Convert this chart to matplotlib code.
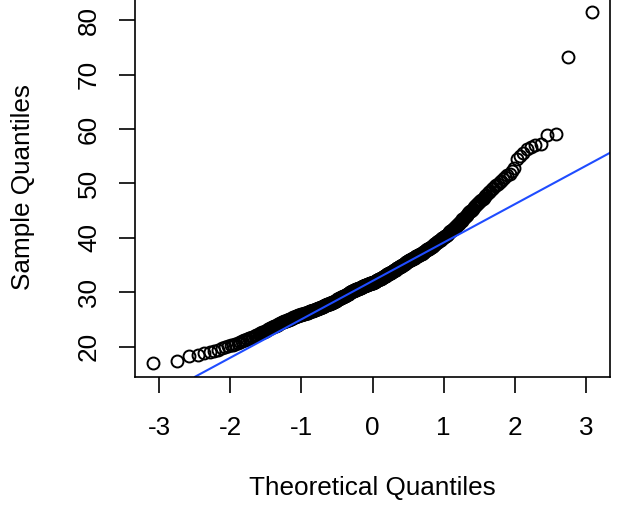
from statistics import NormalDist

import matplotlib

matplotlib.use("Agg")
import matplotlib.pyplot as plt
import numpy as np

# sorted sample values, lower half (ranks 1-250)
sample_low = [
    17.1, 17.4, 18.3, 18.6, 18.8, 19.1, 19.3, 19.5, 19.8, 20.0, 20.1, 20.3, 20.4,
    20.6, 20.7, 20.9, 21.0, 21.2, 21.3, 21.5, 21.6, 21.7, 21.8, 21.9, 22.0,
    22.1, 22.2, 22.4, 22.5, 22.6,
    22.7, 22.8, 22.9, 23.0, 23.1, 23.2, 23.3, 23.4, 23.5, 23.6,
    23.7, 23.8, 23.8, 23.9, 24.0, 24.1, 24.2, 24.2, 24.3, 24.4,
    24.5, 24.5, 24.6, 24.7, 24.7, 24.8, 24.8, 24.9, 25.0, 25.0,
    25.1, 25.1, 25.2, 25.2, 25.3, 25.3, 25.4, 25.4, 25.5, 25.5, 25.6, 25.6, 25.7, 25.7, 25.8,
    25.8, 25.9, 25.9, 25.9, 26.0, 26.0, 26.0, 26.1, 26.1, 26.1, 26.2, 26.2, 26.2,
    26.3, 26.3, 26.3, 26.4, 26.4, 26.4, 26.5, 26.5, 26.5, 26.5, 26.6, 26.6,
    26.6, 26.7, 26.7, 26.8, 26.8, 26.8, 26.9, 26.9, 27.0, 27.0, 27.0, 27.1, 27.1,
    27.2, 27.2, 27.2, 27.3, 27.3, 27.3, 27.4, 27.4, 27.4, 27.5, 27.5, 27.5,
    27.6, 27.6, 27.6, 27.7, 27.7, 27.7, 27.8, 27.8, 27.8, 27.9, 27.9, 27.9,
    28.0, 28.0, 28.0, 28.1, 28.1, 28.1, 28.2, 28.2, 28.2, 28.3, 28.3, 28.4, 28.4,
    28.4, 28.5, 28.5, 28.6, 28.6, 28.7, 28.7, 28.8, 28.8, 28.8, 28.9, 28.9, 29.0,
    29.0, 29.0, 29.1, 29.1, 29.2, 29.2, 29.2, 29.3, 29.3, 29.3, 29.4, 29.4,
    29.4, 29.5, 29.5, 29.6, 29.6, 29.7, 29.7, 29.8, 29.8, 29.8, 29.9, 29.9, 30.0,
    30.0, 30.0, 30.1, 30.1, 30.2, 30.2, 30.2, 30.3, 30.3, 30.3, 30.4, 30.4,
    30.4, 30.5, 30.5, 30.5, 30.6, 30.6, 30.6, 30.6, 30.7, 30.7, 30.7, 30.8, 30.8,
    30.8, 30.8, 30.9, 30.9, 30.9, 31.0, 31.0, 31.0, 31.0, 31.1, 31.1, 31.1,
    31.1, 31.2, 31.2, 31.2, 31.3, 31.3, 31.3, 31.3, 31.4, 31.4, 31.4, 31.5, 31.5,
    31.5, 31.5, 31.6, 31.6, 31.6, 31.7, 31.7, 31.7, 31.7, 31.8, 31.8, 31.8,
]

# sorted sample values, upper half (ranks 251-500)
sample_high = [
    31.8, 31.8, 31.9, 31.9, 31.9, 32.0, 32.0, 32.0, 32.1, 32.1, 32.1, 32.2, 32.2,
    32.2, 32.3, 32.3, 32.3, 32.4, 32.4, 32.4, 32.5, 32.5, 32.5, 32.6, 32.6,
    32.6, 32.7, 32.7, 32.8, 32.8, 32.9, 32.9, 33.0, 33.0, 33.0, 33.1, 33.1, 33.2,
    33.2, 33.2, 33.3, 33.3, 33.4, 33.4, 33.4, 33.5, 33.5, 33.5, 33.6, 33.6,
    33.6, 33.7, 33.7, 33.8, 33.8, 33.9, 33.9, 34.0, 34.0, 34.1, 34.1, 34.1, 34.2,
    34.2, 34.3, 34.3, 34.4, 34.4, 34.4, 34.5, 34.5, 34.6, 34.6, 34.7, 34.7,
    34.7, 34.8, 34.8, 34.9, 34.9, 35.0, 35.0, 35.1, 35.1, 35.2, 35.2, 35.3, 35.3,
    35.4, 35.4, 35.5, 35.5, 35.6, 35.6, 35.7, 35.7, 35.8, 35.8, 35.9, 35.9,
    35.9, 36.0, 36.0, 36.1, 36.1, 36.2, 36.2, 36.3, 36.3, 36.4, 36.4, 36.4, 36.5,
    36.5, 36.6, 36.6, 36.7, 36.7, 36.7, 36.8, 36.8, 36.9, 36.9, 37.0, 37.0,
    37.0, 37.1, 37.1, 37.2, 37.3, 37.3, 37.4, 37.4, 37.5, 37.6, 37.6, 37.7, 37.7,
    37.8, 37.9, 37.9, 38.0, 38.0, 38.1, 38.2, 38.2, 38.3, 38.3, 38.4, 38.5,
    38.5, 38.6, 38.7, 38.8, 38.8, 38.9, 39.0, 39.1, 39.2, 39.2, 39.3, 39.4, 39.5,
    39.6, 39.6, 39.7, 39.8, 39.9, 40.0, 40.0, 40.1, 40.2, 40.3, 40.4, 40.4,
    40.5, 40.6, 40.7, 40.8, 41.0, 41.1, 41.2, 41.3, 41.4, 41.5, 41.6, 41.7, 41.9, 42.0, 42.1,
    42.2, 42.3, 42.5, 42.6, 42.8, 42.9, 43.1, 43.2, 43.4, 43.5,
    43.6, 43.8, 44.0, 44.2, 44.3, 44.5, 44.7, 44.9, 45.0, 45.2,
    45.4, 45.6, 45.8, 46.0, 46.2, 46.4, 46.6, 46.8, 47.0, 47.2,
    47.4, 47.7, 47.9, 48.2, 48.4, 48.7, 49.0, 49.2, 49.5, 49.7,
    49.9, 50.2, 50.5, 50.8, 51.1, 51.5, 51.8, 52.2, 52.8, 54.4,
    55.0, 55.6, 56.4, 56.7, 57.0, 57.3, 58.9, 59.1, 73.2, 81.4,
]

# reference line (qqline)
line_intercept = 32.1
line_slope = 7.05

x_ticks = [-3, -2, -1, 0, 1, 2, 3]
y_ticks = [20, 30, 40, 50, 60, 70, 80]
x_label = "Theoretical Quantiles"
y_label = "Sample Quantiles"

plt.rcParams["font.family"] = ["Liberation Sans", "DejaVu Sans"]


def main():
    sample = np.array(sample_low + sample_high)
    n = len(sample)
    theo = np.array([NormalDist().inv_cdf((i - 0.5) / n) for i in range(1, n + 1)])

    fig = plt.figure(figsize=(6.21, 5.08), dpi=100)
    ax = fig.add_axes([135 / 621, 131.3 / 508, 475 / 621, 378.3 / 508])

    ax.plot(theo, sample, linestyle="none", marker="o", markersize=8.6,
            markerfacecolor="none", markeredgecolor="black", markeredgewidth=1.4)
    ax.axline((0, line_intercept), slope=line_slope, color="#1f4cff", linewidth=1.5)

    xr = theo.max() - theo.min()
    yr = sample.max() - sample.min()
    ax.set_xlim(theo.min() - 0.04 * xr, theo.max() + 0.04 * xr)
    ax.set_ylim(sample.min() - 0.04 * yr, sample.max() + 0.04 * yr)

    ax.set_xticks(x_ticks)
    ax.set_xticklabels([str(t) for t in x_ticks])
    ax.set_yticks(y_ticks)
    ax.set_yticklabels([str(t) for t in y_ticks], rotation=90, va="center")
    ax.tick_params(direction="out", length=11.5, width=1.2, labelsize=18.8, color="black")
    ax.tick_params(axis="x", pad=17)
    ax.tick_params(axis="y", pad=13)
    for spine in ax.spines.values():
        spine.set_linewidth(1.2)
        spine.set_color("black")

    fig.text(372.5 / 621, 1 - 488 / 508, x_label, ha="center", va="center", fontsize=18.8)
    fig.text(23 / 621, 1 - 187.5 / 508, y_label, ha="center", va="center",
             rotation=90, fontsize=18.8)

    fig.savefig("out.png", dpi=100)
    plt.close(fig)


if __name__ == "__main__":
    main()
